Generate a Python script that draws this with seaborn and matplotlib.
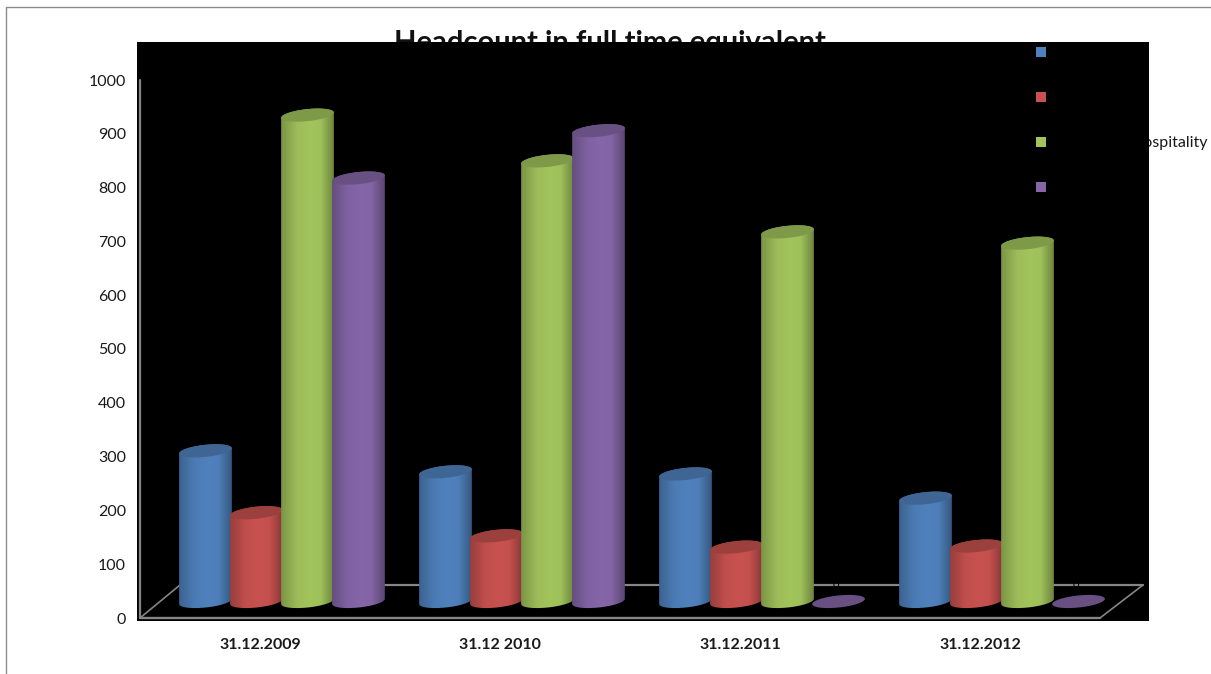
import matplotlib
matplotlib.use("Agg")
import matplotlib.pyplot as plt
import numpy as np
import pandas as pd
import seaborn as sns
from matplotlib.colors import LinearSegmentedColormap, to_rgb
from matplotlib.patches import PathPatch
from matplotlib.path import Path

W, H = 1211, 674

dates = ["31.12.2009", "31.12 2010", "31.12.2011", "31.12.2012"]
series = ["Series 1", "Series 2", "Hospitality", "Series 4"]
blue = [280, 241, 237, 192]
red = [165, 122, 101, 103]
green = [904, 819, 687, 666]
purple = [787, 875, 0, 0]
colors = ["#4f81bd", "#c8524f", "#a2c45c", "#8566a8"]
yticks = list(range(0, 1001, 100))

sns.set_style("white")
plt.rcParams["font.family"] = ["Lato", "DejaVu Sans"]

df = pd.DataFrame({
    "date": dates * 4,
    "series": np.repeat(series, 4),
    "fte": blue + red + green + purple,
})

fig = plt.figure(figsize=(W / 100, H / 100), dpi=100)
# black plot area, pixel box 137..1149 / 42..621
ax = fig.add_axes([137 / W, 1 - 621 / H, (1149 - 137) / W, (621 - 42) / H])
ax.set_facecolor("black")
for s in ax.spines.values():
    s.set_visible(False)

sns.barplot(data=df, x="date", y="fte", hue="series", hue_order=series, order=dates,
            palette=colors, width=0.85, gap=0, legend=False, ax=ax)

# 240 px per category, 0.538 px per headcount
PX_X = 240.0
PX_Y = 0.538
ax.set_xlim((137 - 282) / PX_X, (1149 - 282) / PX_X)
ax.set_ylim((618 - 621) / PX_Y, (618 - 42) / PX_Y)


def px_x(p):
    return (p - 282) / PX_X


def px_y(p):
    return (618 - p) / PX_Y


FLOOR = 30.7  # bars stand in the middle of the 3d floor
TILT = np.deg2rad(6)
A_PX, B_PX = 26.5, 6.0


def ellipse(cx, cy, t):
    dx = A_PX * np.cos(t) * np.cos(TILT) - B_PX * np.sin(t) * np.sin(TILT)
    dy = A_PX * np.cos(t) * np.sin(TILT) + B_PX * np.sin(t) * np.cos(TILT)
    return cx + dx / PX_X, cy + dy / PX_Y


def shade(c, k):
    return tuple(min(1, v * k) for v in to_rgb(c))


# floor and wall lines, behind the bars
ax.plot([px_x(180), px_x(1143)], [px_y(585), px_y(585)], color="#868686", lw=1.6, zorder=1)
ax.plot([px_x(140), px_x(180)], [px_y(618), px_y(585)], color="#868686", lw=1.2, zorder=1)
ax.plot([px_x(1100), px_x(1143)], [px_y(618), px_y(585)], color="#868686", lw=1.2, zorder=1)
ax.plot([px_x(140), px_x(1100)], [px_y(618), px_y(618)], color="#868686", lw=1.7, zorder=1)
ax.plot([px_x(140), px_x(140)], [px_y(618), px_y(80)], color="#868686", lw=1.6, zorder=1)

z = 3
xlim, ylim = ax.get_xlim(), ax.get_ylim()
for h, cont in enumerate(ax.containers):
    col = colors[h]
    cmap = LinearSegmentedColormap.from_list("cyl", [
        (0.0, shade(col, 0.76)), (0.3, shade(col, 0.96)), (0.55, shade(col, 1.0)),
        (0.75, shade(col, 0.98)), (1.0, shade(col, 0.68))])
    for rect in cont:
        rect.set_visible(False)
        cx = rect.get_x() + rect.get_width() / 2
        val = rect.get_height()
        top, base = FLOOR + val, FLOOR
        if val > 0:
            bx, by = ellipse(cx, base, np.linspace(np.pi, 2 * np.pi, 40))
            tx, ty = ellipse(cx, top, np.linspace(0, np.pi, 40))
            verts = list(zip(bx, by)) + list(zip(tx, ty))
            verts.append(verts[0])
            path = Path(verts)
            left, right = min(v[0] for v in verts), max(v[0] for v in verts)
            im = ax.imshow(np.linspace(0, 1, 128)[None, :], cmap=cmap, aspect="auto",
                           extent=(left, right, base - 20, top + 20), zorder=z,
                           interpolation="bilinear")
            clip = PathPatch(path, transform=ax.transData, fc="none", ec="none")
            ax.add_patch(clip)
            im.set_clip_path(clip)
        # lid, or a flat disc for an empty bar
        t = np.linspace(0, 2 * np.pi, 80)
        ex, ey = ellipse(cx, top, t)
        ax.fill(ex, ey, color=shade(col, 0.78), lw=0, zorder=z + 0.5)
        z += 1

ax.set_xlim(xlim)
ax.set_ylim(ylim)

# data labels of the empty bars, black on black, only nick the back line
for i in [2, 3]:
    ax.text(i + 0.2125 * 1.5 - 0.01, px_y(585), "0", color="black", fontsize=8,
            ha="center", va="center", zorder=2)

ax.set_yticks(yticks)
ax.set_yticklabels([str(v) for v in yticks], fontsize=11.5, color="#1a1a1a")
ax.tick_params(axis="y", length=0, pad=8)
ax.set_xticks([i - 22 / PX_X for i in range(4)])
ax.set_xticklabels(dates, fontsize=11.5, fontweight="bold", color="#1a1a1a")
ax.tick_params(axis="x", length=0, pad=12)
ax.set_xlabel("")
ax.set_ylabel("")

# legend squares, the labels are black on the black panel
ax.scatter([px_x(1041)] * 4, [px_y(p) for p in (52, 97, 142, 187)], marker="s", s=52,
           c=colors, linewidths=0, zorder=200)
fig.text(1208 / W, 1 - 142.5 / H, "Hospitality", fontsize=11.5, color="#1a1a1a", ha="right",
         va="center", zorder=-1)

# title sits behind the panel and is cut off by it
fig.text(610 / W, 1 - 51 / H, "Headcount in full time equivalent", fontsize=21,
         fontweight="bold", color="#111111", ha="center", va="baseline", zorder=-1)

# chart frame
fig.add_artist(plt.Line2D([6 / W, 6 / W], [0, 1 - 7 / H], color="#8c8c8c", lw=1))
fig.add_artist(plt.Line2D([6 / W, 1], [1 - 7 / H, 1 - 7 / H], color="#8c8c8c", lw=1))

fig.savefig("out.png", dpi=100)
